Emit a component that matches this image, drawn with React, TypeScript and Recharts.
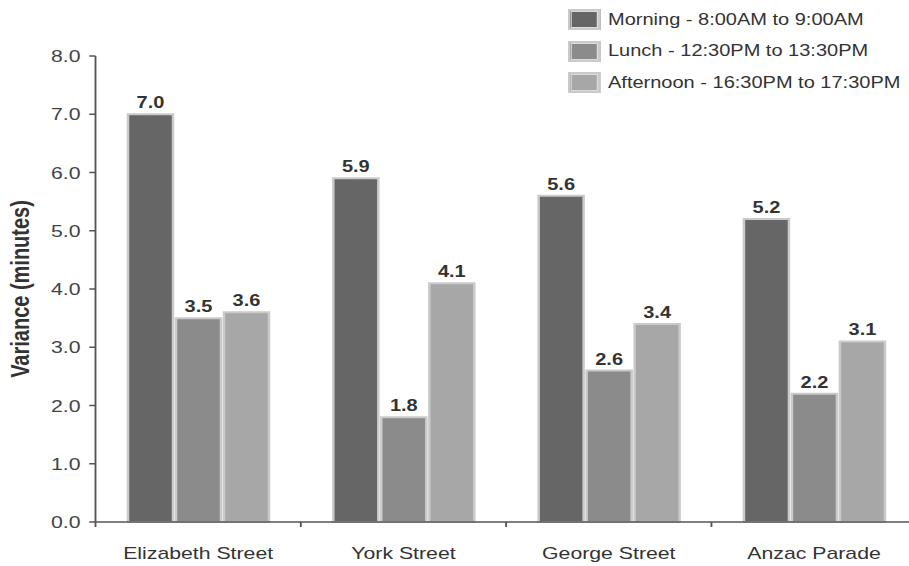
import { Bar, BarChart, LabelList, XAxis, YAxis } from "recharts";

const streets = ["Elizabeth Street", "York Street", "George Street", "Anzac Parade"];
const morning = [7.0, 5.9, 5.6, 5.2];
const lunch = [3.5, 1.8, 2.6, 2.2];
const afternoon = [3.6, 4.1, 3.4, 3.1];
const yTicks = [0, 1, 2, 3, 4, 5, 6, 7, 8];

const SERIES = [
  { key: "morning", name: "Morning - 8:00AM to 9:00AM", color: "#666666" },
  { key: "lunch", name: "Lunch - 12:30PM to 13:30PM", color: "#8b8b8b" },
  { key: "afternoon", name: "Afternoon - 16:30PM to 17:30PM", color: "#a7a7a7" },
];

const data = streets.map((street, i) => ({
  street,
  morning: morning[i],
  lunch: lunch[i],
  afternoon: afternoon[i],
}));

const FONT = "Arial, 'Liberation Sans', sans-serif";
// the source picture is stretched sideways, so the whole chart is too
const STRETCH = 1.25;
const TICK_GAP = 25;

// category label plus a small tick at the left edge of its band
function StreetTick(props: any) {
  const { x, y, payload } = props;
  const edge = x - (payload.offset ?? 0);
  const axisY = y - TICK_GAP;
  return (
    <g>
      <line x1={edge} x2={edge} y1={axisY} y2={axisY + 5} stroke="#555" strokeWidth={1.5} />
      <text x={x} y={y} dy="0.71em" textAnchor="middle" fill="#333" fontSize={17} fontFamily={FONT}>
        {payload.value}
      </text>
    </g>
  );
}

function LegendBox() {
  return (
    <div
      style={{
        position: "absolute",
        left: 448,
        top: -4,
        fontFamily: FONT,
        fontSize: 16,
        color: "#333",
        whiteSpace: "nowrap",
      }}
    >
      {SERIES.map((s) => (
        <div key={s.key} style={{ display: "flex", alignItems: "center", height: 31.5 }}>
          <span
            style={{
              display: "inline-block",
              width: 26,
              height: 21,
              boxSizing: "border-box",
              border: "2px solid #cacaca",
              boxShadow: "inset 0 0 0 1px #dcdcdc",
              background: s.color,
              marginRight: 6,
            }}
          />
          <span>{s.name}</span>
        </div>
      ))}
    </div>
  );
}

export default function App() {
  return (
    <div style={{ position: "relative", width: 909, height: 566, overflow: "hidden" }}>
      <style>{"body{margin:0;overflow:hidden}"}</style>
      <div
        style={{
          position: "absolute",
          left: 8,
          top: 8,
          width: 727,
          height: 558,
          transform: `scaleX(${STRETCH})`,
          transformOrigin: "0 0",
        }}
      >
        <BarChart
          width={727}
          height={558}
          data={data}
          margin={{ top: 48, right: 0, bottom: 0, left: 0 }}
          barCategoryGap={26}
          barGap={2.4}
        >
          <XAxis
            dataKey="street"
            height={44}
            tickLine={false}
            tickSize={0}
            tickMargin={TICK_GAP}
            interval={0}
            axisLine={{ stroke: "#555", strokeWidth: 1.5 }}
            tick={<StreetTick />}
          />
          <YAxis
            width={70}
            domain={[0, 8]}
            ticks={yTicks}
            tickFormatter={(v: number) => v.toFixed(1)}
            axisLine={{ stroke: "#555", strokeWidth: 1.5 }}
            tickLine={{ stroke: "#555", strokeWidth: 1.5 }}
            tickSize={5}
            tickMargin={7}
            tick={{ fill: "#444", fontSize: 17, fontFamily: FONT }}
            label={{
              value: "Variance (minutes)",
              angle: -90,
              position: "insideLeft",
              offset: 10,
              style: { textAnchor: "middle", fontWeight: "bold", fontSize: 20, fill: "#333", fontFamily: FONT },
            }}
          />
          {SERIES.map((s) => (
            <Bar
              key={s.key}
              dataKey={s.key}
              name={s.name}
              fill={s.color}
              stroke="#cacaca"
              strokeWidth={2}
              isAnimationActive={false}
            >
              <LabelList
                dataKey={s.key}
                position="top"
                offset={6}
                formatter={(v: number) => v.toFixed(1)}
                style={{ fontWeight: "bold", fontSize: 16, fill: "#333", fontFamily: FONT }}
              />
            </Bar>
          ))}
        </BarChart>
        <LegendBox />
      </div>
    </div>
  );
}
